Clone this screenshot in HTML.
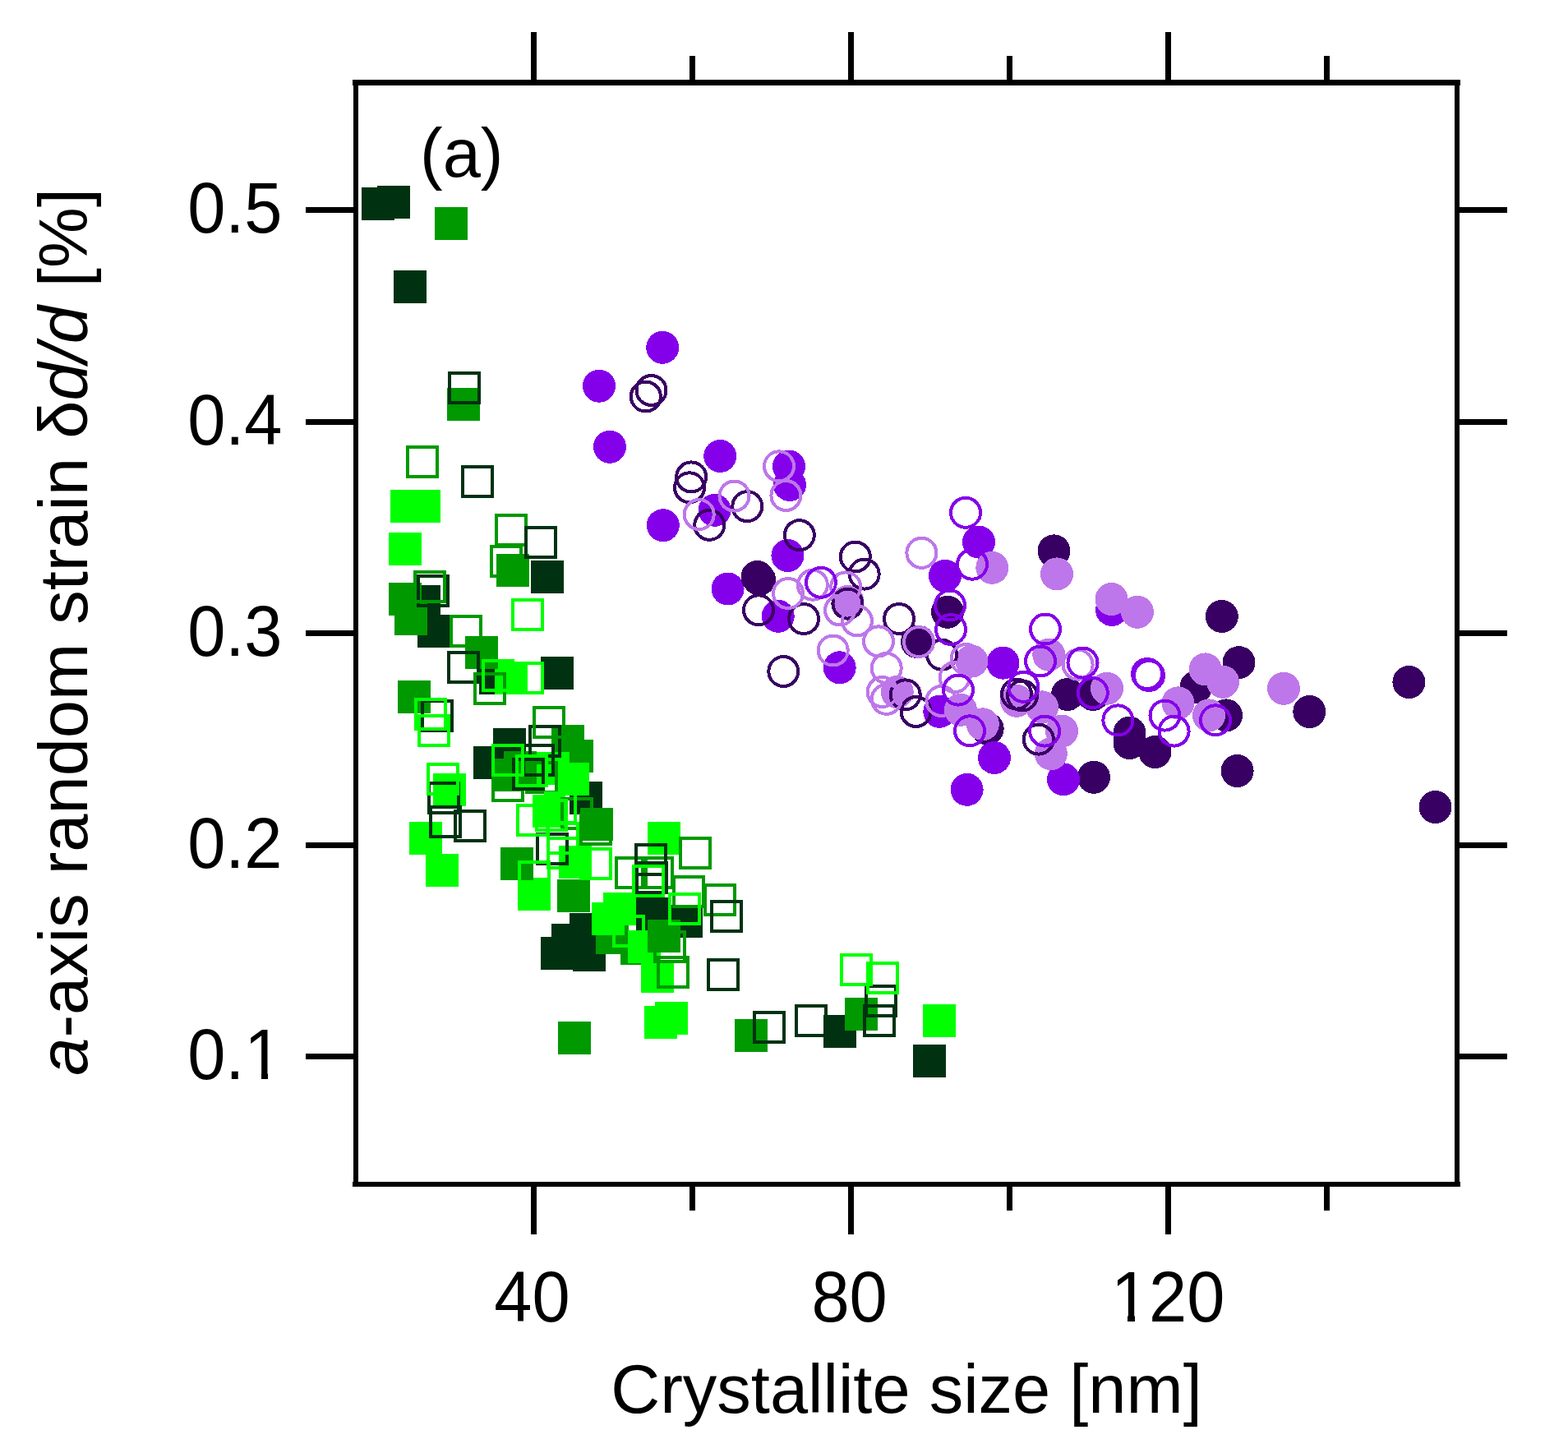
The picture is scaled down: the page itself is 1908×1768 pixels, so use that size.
<!DOCTYPE html>
<html><head><meta charset="utf-8"><title>a-axis random strain vs crystallite size</title>
<style>
html,body{margin:0;padding:0;background:#fff;}
body{width:1908px;height:1768px;overflow:hidden;}
svg{display:block;}
text{font-family:"Liberation Sans",Arial,sans-serif;font-size:83px;fill:#000;}
</style></head>
<body>
<svg width="1908" height="1768" viewBox="0 0 1908 1768">
<defs>
<clipPath id="nf1" clipPathUnits="userSpaceOnUse"><rect x="0" y="0" width="1908" height="1306"/><rect x="0" y="0" width="303" height="1768"/><rect x="318" y="0" width="8" height="1768"/><rect x="340" y="0" width="1908" height="1768"/></clipPath>
<clipPath id="nf2" clipPathUnits="userSpaceOnUse"><rect x="0" y="0" width="1908" height="1601"/><rect x="0" y="0" width="1358" height="1768"/><rect x="1372" y="0" width="9" height="1768"/><rect x="1395" y="0" width="1908" height="1768"/></clipPath>
</defs>
<rect width="1908" height="1768" fill="#fff"/>
<g shape-rendering="crispEdges">
<rect x="440" y="228" width="40" height="40" fill="#003212"/>
<rect x="459" y="226" width="40" height="40" fill="#003212"/>
<rect x="479" y="329" width="40" height="40" fill="#003212"/>
<rect x="646" y="682" width="40" height="40" fill="#003212"/>
<rect x="496" y="712" width="40" height="40" fill="#003212"/>
<rect x="508" y="748" width="40" height="40" fill="#003212"/>
<rect x="583" y="805" width="40" height="40" fill="#003212"/>
<rect x="658" y="799" width="40" height="40" fill="#003212"/>
<rect x="600" y="886" width="40" height="40" fill="#003212"/>
<rect x="576" y="908" width="40" height="40" fill="#003212"/>
<rect x="693" y="951" width="40" height="40" fill="#003212"/>
<rect x="774" y="1092" width="40" height="40" fill="#003212"/>
<rect x="815" y="1101" width="40" height="40" fill="#003212"/>
<rect x="693" y="1111" width="40" height="40" fill="#003212"/>
<rect x="671" y="1124" width="40" height="40" fill="#003212"/>
<rect x="658" y="1140" width="40" height="40" fill="#003212"/>
<rect x="697" y="1142" width="40" height="40" fill="#003212"/>
<rect x="1002" y="1235" width="40" height="40" fill="#003212"/>
<rect x="1111" y="1271" width="40" height="40" fill="#003212"/>
<rect x="725" y="1121" width="40" height="40" fill="#009900"/>
<rect x="755" y="1134" width="40" height="40" fill="#009900"/>
<rect x="624" y="807" width="36" height="36" fill="none" stroke="#00ff00" stroke-width="4"/>
<rect x="475" y="596" width="40" height="40" fill="#00ff00"/>
<rect x="496" y="596" width="40" height="40" fill="#00ff00"/>
<rect x="473" y="648" width="40" height="40" fill="#00ff00"/>
<rect x="602" y="805" width="40" height="40" fill="#00ff00"/>
<rect x="527" y="941" width="40" height="40" fill="#00ff00"/>
<rect x="648" y="967" width="40" height="40" fill="#00ff00"/>
<rect x="680" y="1029" width="40" height="40" fill="#00ff00"/>
<rect x="498" y="1000" width="40" height="40" fill="#00ff00"/>
<rect x="518" y="1039" width="40" height="40" fill="#00ff00"/>
<rect x="630" y="1068" width="40" height="40" fill="#00ff00"/>
<rect x="788" y="1000" width="40" height="40" fill="#00ff00"/>
<rect x="734" y="1086" width="40" height="40" fill="#00ff00"/>
<rect x="720" y="1098" width="40" height="40" fill="#00ff00"/>
<rect x="764" y="1132" width="40" height="40" fill="#00ff00"/>
<rect x="780" y="1168" width="40" height="40" fill="#00ff00"/>
<rect x="784" y="1224" width="40" height="40" fill="#00ff00"/>
<rect x="797" y="1219" width="40" height="40" fill="#00ff00"/>
<rect x="1123" y="1222" width="40" height="40" fill="#00ff00"/>
<rect x="496" y="544" width="36" height="36" fill="none" stroke="#009900" stroke-width="4"/>
<rect x="604" y="627" width="36" height="36" fill="none" stroke="#009900" stroke-width="4"/>
<rect x="598" y="665" width="36" height="36" fill="none" stroke="#009900" stroke-width="4"/>
<rect x="549" y="750" width="36" height="36" fill="none" stroke="#009900" stroke-width="4"/>
<rect x="600" y="938" width="36" height="36" fill="none" stroke="#009900" stroke-width="4"/>
<rect x="684" y="972" width="36" height="36" fill="none" stroke="#009900" stroke-width="4"/>
<rect x="707" y="991" width="36" height="36" fill="none" stroke="#009900" stroke-width="4"/>
<rect x="828" y="1020" width="36" height="36" fill="none" stroke="#009900" stroke-width="4"/>
<rect x="750" y="1044" width="36" height="36" fill="none" stroke="#009900" stroke-width="4"/>
<rect x="782" y="1044" width="36" height="36" fill="none" stroke="#009900" stroke-width="4"/>
<rect x="820" y="1067" width="36" height="36" fill="none" stroke="#009900" stroke-width="4"/>
<rect x="858" y="1077" width="36" height="36" fill="none" stroke="#009900" stroke-width="4"/>
<rect x="797" y="1134" width="36" height="36" fill="none" stroke="#009900" stroke-width="4"/>
<rect x="801" y="1165" width="36" height="36" fill="none" stroke="#009900" stroke-width="4"/>
<rect x="529" y="252" width="40" height="40" fill="#009900"/>
<rect x="544" y="472" width="40" height="40" fill="#009900"/>
<rect x="604" y="674" width="40" height="40" fill="#009900"/>
<rect x="473" y="709" width="40" height="40" fill="#009900"/>
<rect x="480" y="733" width="40" height="40" fill="#009900"/>
<rect x="566" y="774" width="40" height="40" fill="#009900"/>
<rect x="484" y="828" width="40" height="40" fill="#009900"/>
<rect x="671" y="882" width="40" height="40" fill="#009900"/>
<rect x="682" y="900" width="40" height="40" fill="#009900"/>
<rect x="598" y="923" width="40" height="40" fill="#009900"/>
<rect x="613" y="914" width="40" height="40" fill="#009900"/>
<rect x="706" y="983" width="40" height="40" fill="#009900"/>
<rect x="609" y="1031" width="40" height="40" fill="#009900"/>
<rect x="678" y="1070" width="40" height="40" fill="#009900"/>
<rect x="788" y="1119" width="40" height="40" fill="#009900"/>
<rect x="679" y="1243" width="40" height="40" fill="#009900"/>
<rect x="1028" y="1214" width="40" height="40" fill="#009900"/>
<rect x="894" y="1240" width="40" height="40" fill="#009900"/>
<rect x="653" y="915" width="40" height="40" fill="#00ff00"/>
<rect x="677" y="928" width="40" height="40" fill="#00ff00"/>
<rect x="641" y="928" width="36" height="36" fill="none" stroke="#009900" stroke-width="4"/>
<rect x="547" y="454" width="36" height="36" fill="none" stroke="#003212" stroke-width="4"/>
<rect x="563" y="568" width="36" height="36" fill="none" stroke="#003212" stroke-width="4"/>
<rect x="640" y="642" width="36" height="36" fill="none" stroke="#003212" stroke-width="4"/>
<rect x="509" y="701" width="36" height="36" fill="none" stroke="#003212" stroke-width="4"/>
<rect x="546" y="794" width="36" height="36" fill="none" stroke="#003212" stroke-width="4"/>
<rect x="514" y="853" width="36" height="36" fill="none" stroke="#003212" stroke-width="4"/>
<rect x="645" y="884" width="36" height="36" fill="none" stroke="#003212" stroke-width="4"/>
<rect x="637" y="907" width="36" height="36" fill="none" stroke="#003212" stroke-width="4"/>
<rect x="625" y="924" width="36" height="36" fill="none" stroke="#003212" stroke-width="4"/>
<rect x="654" y="1015" width="36" height="36" fill="none" stroke="#003212" stroke-width="4"/>
<rect x="554" y="987" width="36" height="36" fill="none" stroke="#003212" stroke-width="4"/>
<rect x="522" y="953" width="36" height="36" fill="none" stroke="#003212" stroke-width="4"/>
<rect x="524" y="982" width="36" height="36" fill="none" stroke="#003212" stroke-width="4"/>
<rect x="774" y="1028" width="36" height="36" fill="none" stroke="#003212" stroke-width="4"/>
<rect x="775" y="1050" width="36" height="36" fill="none" stroke="#003212" stroke-width="4"/>
<rect x="866" y="1097" width="36" height="36" fill="none" stroke="#003212" stroke-width="4"/>
<rect x="862" y="1168" width="36" height="36" fill="none" stroke="#003212" stroke-width="4"/>
<rect x="1054" y="1200" width="36" height="36" fill="none" stroke="#003212" stroke-width="4"/>
<rect x="1052" y="1224" width="36" height="36" fill="none" stroke="#003212" stroke-width="4"/>
<rect x="969" y="1224" width="36" height="36" fill="none" stroke="#003212" stroke-width="4"/>
<rect x="918" y="1232" width="36" height="36" fill="none" stroke="#003212" stroke-width="4"/>
<rect x="505" y="696" width="36" height="36" fill="none" stroke="#009900" stroke-width="4"/>
<rect x="578" y="820" width="36" height="36" fill="none" stroke="#009900" stroke-width="4"/>
<rect x="650" y="861" width="36" height="36" fill="none" stroke="#009900" stroke-width="4"/>
<rect x="624" y="730" width="36" height="36" fill="none" stroke="#00ff00" stroke-width="4"/>
<rect x="588" y="804" width="36" height="36" fill="none" stroke="#00ff00" stroke-width="4"/>
<rect x="506" y="851" width="36" height="36" fill="none" stroke="#00ff00" stroke-width="4"/>
<rect x="510" y="871" width="36" height="36" fill="none" stroke="#00ff00" stroke-width="4"/>
<rect x="521" y="930" width="36" height="36" fill="none" stroke="#00ff00" stroke-width="4"/>
<rect x="600" y="907" width="36" height="36" fill="none" stroke="#00ff00" stroke-width="4"/>
<rect x="629" y="920" width="36" height="36" fill="none" stroke="#00ff00" stroke-width="4"/>
<rect x="630" y="980" width="36" height="36" fill="none" stroke="#00ff00" stroke-width="4"/>
<rect x="667" y="1020" width="36" height="36" fill="none" stroke="#00ff00" stroke-width="4"/>
<rect x="632" y="1049" width="36" height="36" fill="none" stroke="#00ff00" stroke-width="4"/>
<rect x="707" y="1033" width="36" height="36" fill="none" stroke="#00ff00" stroke-width="4"/>
<rect x="771" y="1054" width="36" height="36" fill="none" stroke="#00ff00" stroke-width="4"/>
<rect x="815" y="1088" width="36" height="36" fill="none" stroke="#00ff00" stroke-width="4"/>
<rect x="747" y="1115" width="36" height="36" fill="none" stroke="#00ff00" stroke-width="4"/>
<rect x="653" y="974" width="36" height="36" fill="none" stroke="#00ff00" stroke-width="4"/>
<rect x="664" y="965" width="36" height="36" fill="none" stroke="#00ff00" stroke-width="4"/>
<rect x="667" y="1002" width="36" height="36" fill="none" stroke="#00ff00" stroke-width="4"/>
<rect x="1024" y="1162" width="36" height="36" fill="none" stroke="#00ff00" stroke-width="4"/>
<rect x="1056" y="1172" width="36" height="36" fill="none" stroke="#00ff00" stroke-width="4"/>
<circle cx="924.0" cy="705.0" r="20" fill="#390063"/>
<circle cx="1118.0" cy="781.0" r="20" fill="#390063"/>
<circle cx="1282.5" cy="670.4" r="20" fill="#390063"/>
<circle cx="1153.0" cy="744.8" r="20" fill="#390063"/>
<circle cx="1299.0" cy="845.0" r="20" fill="#390063"/>
<circle cx="1330.0" cy="845.0" r="20" fill="#390063"/>
<circle cx="1201.7" cy="886.7" r="20" fill="#390063"/>
<circle cx="1331.0" cy="945.8" r="20" fill="#390063"/>
<circle cx="1374.5" cy="891.7" r="20" fill="#390063"/>
<circle cx="1374.5" cy="904.2" r="20" fill="#390063"/>
<circle cx="1486.8" cy="750.0" r="20" fill="#390063"/>
<circle cx="1507.5" cy="806.2" r="20" fill="#390063"/>
<circle cx="1455.5" cy="835.8" r="20" fill="#390063"/>
<circle cx="1492.0" cy="870.4" r="20" fill="#390063"/>
<circle cx="1593.3" cy="866.0" r="20" fill="#390063"/>
<circle cx="1505.6" cy="938.0" r="20" fill="#390063"/>
<circle cx="1405.4" cy="915.0" r="20" fill="#390063"/>
<circle cx="1714.4" cy="830.0" r="20" fill="#390063"/>
<circle cx="1746.5" cy="982.0" r="20" fill="#390063"/>
<circle cx="806.2" cy="422.8" r="20" fill="#8500ea"/>
<circle cx="729.0" cy="469.7" r="20" fill="#8500ea"/>
<circle cx="742.0" cy="543.8" r="20" fill="#8500ea"/>
<circle cx="876.2" cy="555.0" r="20" fill="#8500ea"/>
<circle cx="869.6" cy="620.8" r="20" fill="#8500ea"/>
<circle cx="806.8" cy="639.2" r="20" fill="#8500ea"/>
<circle cx="960.0" cy="567.5" r="20" fill="#8500ea"/>
<circle cx="961.0" cy="590.0" r="20" fill="#8500ea"/>
<circle cx="958.4" cy="676.0" r="20" fill="#8500ea"/>
<circle cx="885.6" cy="716.5" r="20" fill="#8500ea"/>
<circle cx="946.7" cy="749.8" r="20" fill="#8500ea"/>
<circle cx="1021.7" cy="812.3" r="20" fill="#8500ea"/>
<circle cx="1191.0" cy="659.6" r="20" fill="#8500ea"/>
<circle cx="1150.0" cy="700.8" r="20" fill="#8500ea"/>
<circle cx="1220.5" cy="806.7" r="20" fill="#8500ea"/>
<circle cx="1294.0" cy="948.3" r="20" fill="#8500ea"/>
<circle cx="1210.0" cy="922.0" r="20" fill="#8500ea"/>
<circle cx="1176.6" cy="960.8" r="20" fill="#8500ea"/>
<circle cx="1143.3" cy="865.8" r="20" fill="#8500ea"/>
<circle cx="1353.0" cy="742.0" r="20" fill="#8500ea"/>
<circle cx="1031.5" cy="732.0" r="20" fill="#be77ea"/>
<circle cx="1091.7" cy="842.0" r="20" fill="#be77ea"/>
<circle cx="1207.3" cy="690.8" r="20" fill="#be77ea"/>
<circle cx="1286.0" cy="698.4" r="20" fill="#be77ea"/>
<circle cx="1182.5" cy="804.6" r="20" fill="#be77ea"/>
<circle cx="1276.3" cy="796.7" r="20" fill="#be77ea"/>
<circle cx="1347.0" cy="837.7" r="20" fill="#be77ea"/>
<circle cx="1237.0" cy="852.8" r="20" fill="#be77ea"/>
<circle cx="1268.0" cy="860.4" r="20" fill="#be77ea"/>
<circle cx="1292.0" cy="889.6" r="20" fill="#be77ea"/>
<circle cx="1278.8" cy="917.3" r="20" fill="#be77ea"/>
<circle cx="1195.8" cy="881.3" r="20" fill="#be77ea"/>
<circle cx="1169.0" cy="863.8" r="20" fill="#be77ea"/>
<circle cx="1352.5" cy="729.0" r="20" fill="#be77ea"/>
<circle cx="1384.0" cy="744.8" r="20" fill="#be77ea"/>
<circle cx="1466.7" cy="814.4" r="20" fill="#be77ea"/>
<circle cx="1488.0" cy="829.8" r="20" fill="#be77ea"/>
<circle cx="1433.5" cy="855.4" r="20" fill="#be77ea"/>
<circle cx="1471.0" cy="870.4" r="20" fill="#be77ea"/>
<circle cx="1562.0" cy="837.8" r="20" fill="#be77ea"/>
<circle cx="792.5" cy="475.0" r="18" fill="none" stroke="#390063" stroke-width="4"/>
<circle cx="785.8" cy="482.5" r="18" fill="none" stroke="#390063" stroke-width="4"/>
<circle cx="841.2" cy="580.4" r="18" fill="none" stroke="#390063" stroke-width="4"/>
<circle cx="839.0" cy="593.3" r="18" fill="none" stroke="#390063" stroke-width="4"/>
<circle cx="909.3" cy="616.2" r="18" fill="none" stroke="#390063" stroke-width="4"/>
<circle cx="863.3" cy="638.8" r="18" fill="none" stroke="#390063" stroke-width="4"/>
<circle cx="972.8" cy="651.2" r="18" fill="none" stroke="#390063" stroke-width="4"/>
<circle cx="921.5" cy="702.0" r="18" fill="none" stroke="#390063" stroke-width="4"/>
<circle cx="923.0" cy="742.3" r="18" fill="none" stroke="#390063" stroke-width="4"/>
<circle cx="978.0" cy="753.0" r="18" fill="none" stroke="#390063" stroke-width="4"/>
<circle cx="953.3" cy="817.0" r="18" fill="none" stroke="#390063" stroke-width="4"/>
<circle cx="1040.8" cy="677.5" r="18" fill="none" stroke="#390063" stroke-width="4"/>
<circle cx="1051.7" cy="698.6" r="18" fill="none" stroke="#390063" stroke-width="4"/>
<circle cx="1031.4" cy="734.6" r="18" fill="none" stroke="#390063" stroke-width="4"/>
<circle cx="1094.0" cy="753.0" r="18" fill="none" stroke="#390063" stroke-width="4"/>
<circle cx="1101.7" cy="845.4" r="18" fill="none" stroke="#390063" stroke-width="4"/>
<circle cx="1114.6" cy="866.0" r="18" fill="none" stroke="#390063" stroke-width="4"/>
<circle cx="1116.0" cy="781.0" r="18" fill="none" stroke="#390063" stroke-width="4"/>
<circle cx="1146.0" cy="796.7" r="18" fill="none" stroke="#390063" stroke-width="4"/>
<circle cx="1237.0" cy="844.6" r="18" fill="none" stroke="#390063" stroke-width="4"/>
<circle cx="1244.0" cy="846.5" r="18" fill="none" stroke="#390063" stroke-width="4"/>
<circle cx="1263.8" cy="899.6" r="18" fill="none" stroke="#390063" stroke-width="4"/>
<circle cx="893.5" cy="603.5" r="18" fill="none" stroke="#be77ea" stroke-width="4"/>
<circle cx="850.7" cy="626.0" r="18" fill="none" stroke="#be77ea" stroke-width="4"/>
<circle cx="948.0" cy="567.3" r="18" fill="none" stroke="#be77ea" stroke-width="4"/>
<circle cx="956.4" cy="603.0" r="18" fill="none" stroke="#be77ea" stroke-width="4"/>
<circle cx="959.0" cy="722.0" r="18" fill="none" stroke="#be77ea" stroke-width="4"/>
<circle cx="988.8" cy="711.7" r="18" fill="none" stroke="#be77ea" stroke-width="4"/>
<circle cx="1029.2" cy="714.4" r="18" fill="none" stroke="#be77ea" stroke-width="4"/>
<circle cx="1022.0" cy="742.5" r="18" fill="none" stroke="#be77ea" stroke-width="4"/>
<circle cx="1043.0" cy="755.4" r="18" fill="none" stroke="#be77ea" stroke-width="4"/>
<circle cx="1069.0" cy="780.4" r="18" fill="none" stroke="#be77ea" stroke-width="4"/>
<circle cx="1013.7" cy="791.5" r="18" fill="none" stroke="#be77ea" stroke-width="4"/>
<circle cx="1078.7" cy="813.0" r="18" fill="none" stroke="#be77ea" stroke-width="4"/>
<circle cx="1073.7" cy="842.0" r="18" fill="none" stroke="#be77ea" stroke-width="4"/>
<circle cx="1078.7" cy="850.8" r="18" fill="none" stroke="#be77ea" stroke-width="4"/>
<circle cx="1118.0" cy="781.0" r="18" fill="none" stroke="#be77ea" stroke-width="4"/>
<circle cx="1121.4" cy="672.8" r="18" fill="none" stroke="#be77ea" stroke-width="4"/>
<circle cx="1175.5" cy="802.0" r="18" fill="none" stroke="#be77ea" stroke-width="4"/>
<circle cx="1161.7" cy="824.2" r="18" fill="none" stroke="#be77ea" stroke-width="4"/>
<circle cx="1311.6" cy="808.7" r="18" fill="none" stroke="#be77ea" stroke-width="4"/>
<circle cx="1145.4" cy="853.0" r="18" fill="none" stroke="#be77ea" stroke-width="4"/>
<circle cx="999.0" cy="708.8" r="18" fill="none" stroke="#8500ea" stroke-width="4"/>
<circle cx="1175.0" cy="623.8" r="18" fill="none" stroke="#8500ea" stroke-width="4"/>
<circle cx="1183.0" cy="686.7" r="18" fill="none" stroke="#8500ea" stroke-width="4"/>
<circle cx="1156.0" cy="736.5" r="18" fill="none" stroke="#8500ea" stroke-width="4"/>
<circle cx="1157.0" cy="766.0" r="18" fill="none" stroke="#8500ea" stroke-width="4"/>
<circle cx="1272.0" cy="765.5" r="18" fill="none" stroke="#8500ea" stroke-width="4"/>
<circle cx="1266.0" cy="804.5" r="18" fill="none" stroke="#8500ea" stroke-width="4"/>
<circle cx="1245.4" cy="835.8" r="18" fill="none" stroke="#8500ea" stroke-width="4"/>
<circle cx="1317.5" cy="806.5" r="18" fill="none" stroke="#8500ea" stroke-width="4"/>
<circle cx="1396.0" cy="820.0" r="18" fill="none" stroke="#8500ea" stroke-width="4"/>
<circle cx="1398.0" cy="822.0" r="18" fill="none" stroke="#8500ea" stroke-width="4"/>
<circle cx="1329.8" cy="843.0" r="18" fill="none" stroke="#8500ea" stroke-width="4"/>
<circle cx="1271.2" cy="889.6" r="18" fill="none" stroke="#8500ea" stroke-width="4"/>
<circle cx="1180.0" cy="889.3" r="18" fill="none" stroke="#8500ea" stroke-width="4"/>
<circle cx="1166.0" cy="839.6" r="18" fill="none" stroke="#8500ea" stroke-width="4"/>
<circle cx="1360.4" cy="876.4" r="18" fill="none" stroke="#8500ea" stroke-width="4"/>
<circle cx="1417.5" cy="870.6" r="18" fill="none" stroke="#8500ea" stroke-width="4"/>
<circle cx="1428.6" cy="889.6" r="18" fill="none" stroke="#8500ea" stroke-width="4"/>
<circle cx="1479.0" cy="876.3" r="18" fill="none" stroke="#8500ea" stroke-width="4"/>
</g>
<g shape-rendering="crispEdges">
<rect x="429" y="97" width="348.5" height="0" fill="none"/>
<rect x="429" y="97" width="1348" height="7" fill="#000"/>
<rect x="429" y="1438" width="1348" height="6" fill="#000"/>
<rect x="430" y="97" width="6" height="1347" fill="#000"/>
<rect x="1770" y="97" width="6" height="1347" fill="#000"/>
<rect x="646.0" y="39" width="7" height="58" fill="#000"/>
<rect x="646.0" y="1444" width="7" height="58" fill="#000"/>
<rect x="839.0" y="68" width="7" height="29" fill="#000"/>
<rect x="839.0" y="1444" width="7" height="29" fill="#000"/>
<rect x="1032.0" y="39" width="7" height="58" fill="#000"/>
<rect x="1032.0" y="1444" width="7" height="58" fill="#000"/>
<rect x="1225.0" y="68" width="7" height="29" fill="#000"/>
<rect x="1225.0" y="1444" width="7" height="29" fill="#000"/>
<rect x="1418.0" y="39" width="7" height="58" fill="#000"/>
<rect x="1418.0" y="1444" width="7" height="58" fill="#000"/>
<rect x="1611.0" y="68" width="7" height="29" fill="#000"/>
<rect x="1611.0" y="1444" width="7" height="29" fill="#000"/>
<rect x="372" y="1282.0" width="58" height="7" fill="#000"/>
<rect x="1776" y="1282.0" width="58" height="7" fill="#000"/>
<rect x="372" y="1024.5" width="58" height="7" fill="#000"/>
<rect x="1776" y="1024.5" width="58" height="7" fill="#000"/>
<rect x="372" y="767.0" width="58" height="7" fill="#000"/>
<rect x="1776" y="767.0" width="58" height="7" fill="#000"/>
<rect x="372" y="509.5" width="58" height="7" fill="#000"/>
<rect x="1776" y="509.5" width="58" height="7" fill="#000"/>
<rect x="372" y="252.0" width="58" height="7" fill="#000"/>
<rect x="1776" y="252.0" width="58" height="7" fill="#000"/>
</g>
<g>
<g clip-path="url(#nf1)"><text transform="translate(343.5,1313.0) scale(1,1.04)" text-anchor="end">0.1</text></g>
<text transform="translate(343.5,1055.5) scale(1,1.04)" text-anchor="end">0.2</text>
<text transform="translate(343.5,798.0) scale(1,1.04)" text-anchor="end">0.3</text>
<text transform="translate(343.5,540.5) scale(1,1.04)" text-anchor="end">0.4</text>
<text transform="translate(343.5,283.0) scale(1,1.04)" text-anchor="end">0.5</text>
<text transform="translate(647.5,1608) scale(1,1.04)" text-anchor="middle">40</text>
<text transform="translate(1033.6,1608) scale(1,1.04)" text-anchor="middle">80</text>
<g clip-path="url(#nf2)"><text transform="translate(1421.2,1608) scale(1,1.04)" text-anchor="middle">120</text></g>
<text x="1103" y="1719" text-anchor="middle">Crystallite size [nm]</text>
<text x="511" y="215">(a)</text>
<text transform="translate(106,769) rotate(-90)" text-anchor="middle"><tspan font-style="italic">a</tspan>-axis random strain δ<tspan font-style="italic">d/d</tspan> [%]</text>
</g>
</svg>
</body></html>
